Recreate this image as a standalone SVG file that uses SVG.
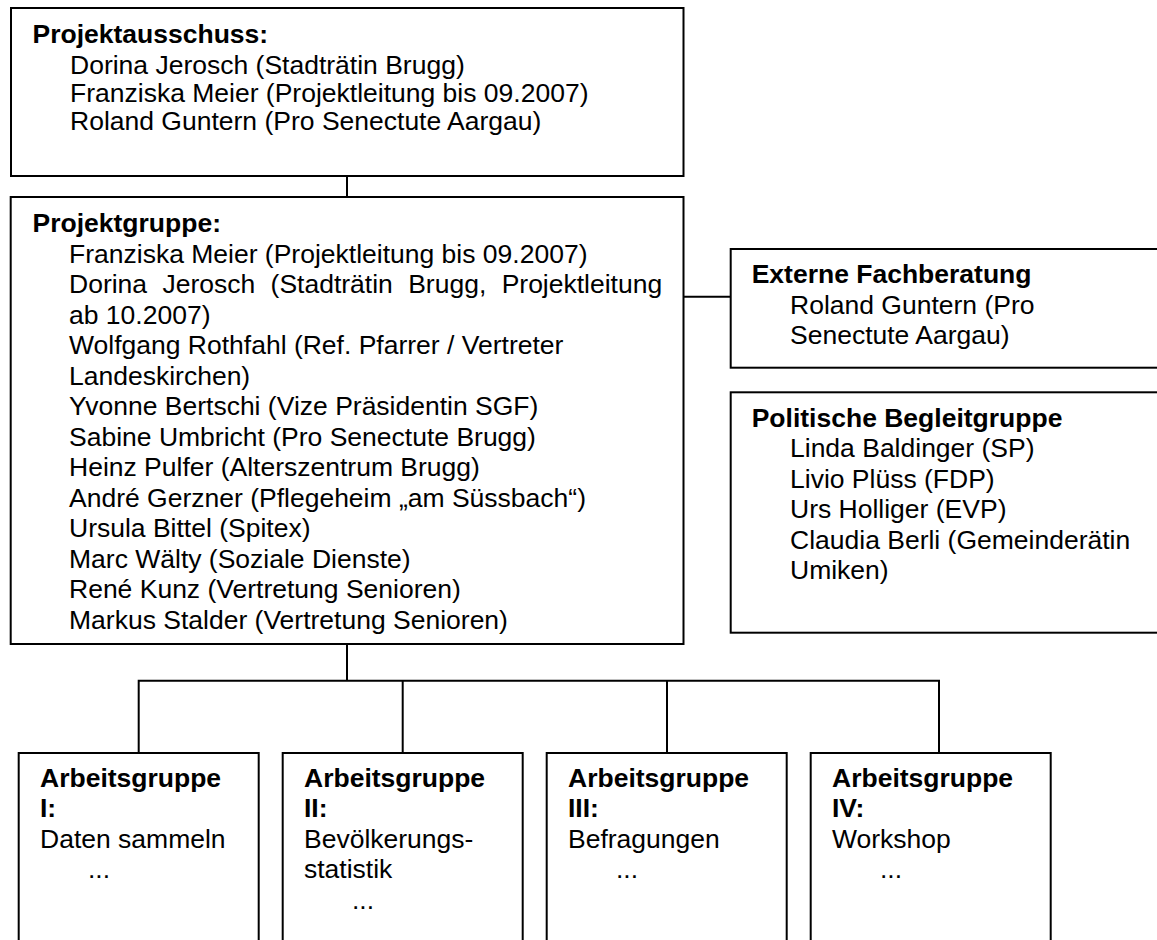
<svg xmlns="http://www.w3.org/2000/svg" width="1157" height="940" viewBox="0 0 1157 940">
<style>
.box{fill:#fff;stroke:#000;stroke-width:2}
.con{fill:none;stroke:#000;stroke-width:2}
text{font-family:"Liberation Sans",Arial,sans-serif;font-size:26.5px;fill:#000}
.b{font-weight:bold}
</style>
<defs>
<clipPath id="pgclip"><rect x="0" y="197" width="700" height="437"/></clipPath>
</defs>
<rect width="1157" height="940" fill="#fff"/>
<g id="connectors">
<line class="con" x1="347" y1="176" x2="347" y2="197"/>
<line class="con" x1="683.5" y1="296.7" x2="730.7" y2="296.7"/>
<line class="con" x1="347" y1="644" x2="347" y2="680.7"/>
<polyline class="con" points="138.7,753 138.7,680.7 939,680.7 939,753"/>
<line class="con" x1="402.7" y1="680.7" x2="402.7" y2="753"/>
<line class="con" x1="667" y1="680.7" x2="667" y2="753"/>
</g>
<g id="projektausschuss">
<rect class="box" x="11" y="8" width="672.5" height="168"/>
<text class="b" x="32.5" y="43">Projektausschuss:</text>
<text x="70" y="73.5">Dorina Jerosch (Stadträtin Brugg)</text>
<text x="70" y="102">Franziska Meier (Projektleitung bis 09.2007)</text>
<text x="70" y="130">Roland Guntern (Pro Senectute Aargau)</text>
</g>
<g id="projektgruppe">
<rect class="box" x="10.7" y="197" width="672.8" height="447"/>
<g clip-path="url(#pgclip)">
<text class="b" x="32.5" y="232">Projektgruppe:</text>
<text x="69" y="262.5">Franziska Meier (Projektleitung bis 09.2007)</text>
<text x="69" y="293" word-spacing="8">Dorina Jerosch (Stadträtin Brugg, Projektleitung</text>
<text x="69" y="323.5">ab 10.2007)</text>
<text x="69" y="354">Wolfgang Rothfahl (Ref. Pfarrer / Vertreter</text>
<text x="69" y="384.5">Landeskirchen)</text>
<text x="69" y="415">Yvonne Bertschi (Vize Präsidentin SGF)</text>
<text x="69" y="445.5">Sabine Umbricht (Pro Senectute Brugg)</text>
<text x="69" y="476">Heinz Pulfer (Alterszentrum Brugg)</text>
<text x="69" y="506.5">André Gerzner (Pflegeheim „am Süssbach“)</text>
<text x="69" y="537">Ursula Bittel (Spitex)</text>
<text x="69" y="567.5">Marc Wälty (Soziale Dienste)</text>
<text x="69" y="598">René Kunz (Vertretung Senioren)</text>
<text x="69" y="628.5">Markus Stalder (Vertretung Senioren)</text>
</g>
</g>
<g id="externe">
<rect class="box" x="730.7" y="249" width="440" height="118.7"/>
<text class="b" x="751.7" y="283">Externe Fachberatung</text>
<text x="790" y="313.5">Roland Guntern (Pro</text>
<text x="790" y="344">Senectute Aargau)</text>
</g>
<g id="politische">
<rect class="box" x="730.7" y="392.3" width="440" height="240.4"/>
<text class="b" x="751.7" y="426.7">Politische Begleitgruppe</text>
<text x="790" y="457.2">Linda Baldinger (SP)</text>
<text x="790" y="487.7">Livio Plüss (FDP)</text>
<text x="790" y="518.2">Urs Holliger (EVP)</text>
<text x="790" y="548.7">Claudia Berli (Gemeinderätin</text>
<text x="790" y="579.2">Umiken)</text>
</g>
<g id="ag1">
<rect class="box" x="18.7" y="753" width="240" height="200"/>
<text class="b" x="40" y="786.7">Arbeitsgruppe</text>
<text class="b" x="40" y="817.2">I:</text>
<text x="40" y="847.7">Daten sammeln</text>
<text x="88" y="878.2">...</text>
</g>
<g id="ag2">
<rect class="box" x="282.7" y="753" width="240" height="200"/>
<text class="b" x="304" y="786.7">Arbeitsgruppe</text>
<text class="b" x="304" y="817.2">II:</text>
<text x="304" y="847.7">Bevölkerungs-</text>
<text x="304" y="878.2">statistik</text>
<text x="352" y="908.7">...</text>
</g>
<g id="ag3">
<rect class="box" x="546.7" y="753" width="240" height="200"/>
<text class="b" x="568" y="786.7">Arbeitsgruppe</text>
<text class="b" x="568" y="817.2">III:</text>
<text x="568" y="847.7">Befragungen</text>
<text x="616" y="878.2">...</text>
</g>
<g id="ag4">
<rect class="box" x="810.7" y="753" width="240" height="200"/>
<text class="b" x="832" y="786.7">Arbeitsgruppe</text>
<text class="b" x="832" y="817.2">IV:</text>
<text x="832" y="847.7">Workshop</text>
<text x="880" y="878.2">...</text>
</g>
</svg>
